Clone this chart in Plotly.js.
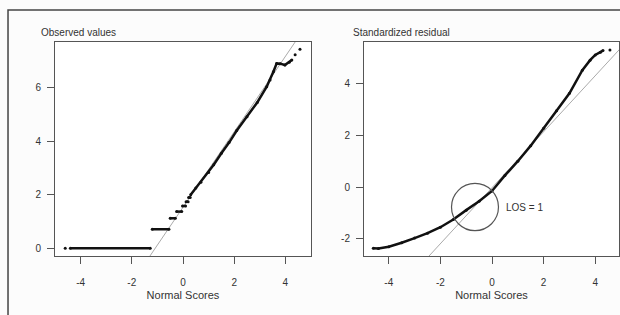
<!DOCTYPE html>
<html>
<head>
<meta charset="utf-8">
<script src="https://cdn.plot.ly/plotly-3.0.1.min.js"></script>
<style>
html,body{margin:0;padding:0;background:#fcfcfc;}
#chart{width:620px;height:315px;}
</style>
</head>
<body>
<div id="chart"></div>
<script>
// Left panel: observed values vs normal scores (null = gap between tied levels)
var obsX = [-4.6, null, -4.4, -1.28, null, -1.2, -0.55, null, -0.5, -0.3, null, -0.25, -0.05, null, -0.02, 0.1, null, 0.12, 0.2, null, 0.22, 0.28, null,
            0.3, 0.5, 0.7, 1.0, 1.2, 1.5, 1.8, 2.1, 2.5, 2.9, 3.27, 3.4, 3.53, 3.66, 3.8, 3.98, 4.15, 4.25, null, 4.38, null, 4.57];
var obsY = [0, null, 0, 0, null, 0.71, 0.71, null, 1.12, 1.12, null, 1.37, 1.37, null, 1.58, 1.58, null, 1.74, 1.74, null, 1.9, 1.9, null,
            2.0, 2.25, 2.47, 2.83, 3.12, 3.55, 3.95, 4.4, 4.92, 5.45, 6.04, 6.29, 6.6, 6.91, 6.9, 6.85, 6.95, 7.04, null, 7.23, null, 7.44];
var refLeftX = [-1.5, 4.6];
var refLeftY = [-0.585, 8.02];

// Right panel: standardized residual vs normal scores
var resX = [-4.6, -4.4, -4.0, -3.5, -3.0, -2.5, -2.0, -1.5, -1.0, -0.5, 0, 0.5, 1.0, 1.5, 2.0, 2.5, 3.0, 3.5, 3.8, 4.0, 4.2, 4.3, null, 4.57];
var resY = [-2.36, -2.37, -2.3, -2.15, -1.97, -1.78, -1.55, -1.25, -0.89, -0.55, -0.15, 0.45, 1.0, 1.6, 2.27, 2.95, 3.62, 4.51, 4.9, 5.1, 5.2, 5.27, null, 5.29];
var refRightX = [-2.7, 5.0];
var refRightY = [-2.94, 5.38];

var xTickVals = [-4, -2, 0, 2, 4];
var xTickText = ['-4', '-2', '0', '2', '4'];
var yLeftVals = [0, 2, 4, 6];
var yLeftText = ['0', '2', '4', '6'];
var yRightVals = [-2, 0, 2, 4];
var yRightText = ['-2', '0', '2', '4'];

var font = 'Liberation Sans, Arial, sans-serif';
var axisCommon = {
  showgrid: false, zeroline: false, showline: true, mirror: true,
  linecolor: '#555', linewidth: 1, ticks: 'outside', ticklen: 7, tickwidth: 1,
  tickcolor: '#555', tickfont: {family: font, size: 10, color: '#333'}, tickmode: 'array'
};
function ax(extra){ return Object.assign({}, axisCommon, extra); }

var traces = [
  {x: refLeftX, y: refLeftY, xaxis: 'x', yaxis: 'y', mode: 'lines', line: {color: '#aaa', width: 1}, hoverinfo: 'skip'},
  {x: obsX, y: obsY, xaxis: 'x', yaxis: 'y', mode: 'lines+markers', connectgaps: false,
   line: {color: '#111', width: 2.5}, marker: {color: '#111', size: 3}},
  {x: refRightX, y: refRightY, xaxis: 'x2', yaxis: 'y2', mode: 'lines', line: {color: '#aaa', width: 1}, hoverinfo: 'skip'},
  {x: resX, y: resY, xaxis: 'x2', yaxis: 'y2', mode: 'lines+markers', connectgaps: false,
   line: {color: '#111', width: 2.5}, marker: {color: '#111', size: 3}}
];

var layout = {
  width: 620, height: 315,
  margin: {l: 55, r: 1, t: 42, b: 59},
  paper_bgcolor: '#fcfcfc', plot_bgcolor: '#ffffff',
  showlegend: false,
  font: {family: font, size: 10, color: '#333'},
  xaxis: ax({domain: [0, 0.4539], range: [-5, 5], tickvals: xTickVals, ticktext: xTickText, anchor: 'y',
             ticklabelstandoff: 10,
             title: {text: 'Normal Scores', font: {family: font, size: 11, color: '#333'}, standoff: 4}}),
  yaxis: ax({domain: [0, 1], range: [-0.29, 7.71], tickvals: yLeftVals, ticktext: yLeftText, anchor: 'x', ticklabelstandoff: 4}),
  xaxis2: ax({domain: [0.5479, 1], range: [-4.96, 4.92], tickvals: xTickVals, ticktext: xTickText, anchor: 'y2',
              ticklabelstandoff: 10,
              title: {text: 'Normal Scores', font: {family: font, size: 11, color: '#333'}, standoff: 4}}),
  yaxis2: ax({domain: [0, 1], range: [-2.66, 5.6], tickvals: yRightVals, ticktext: yRightText, anchor: 'x2', ticklabelstandoff: 4}),
  shapes: [
    {type: 'rect', xref: 'paper', yref: 'paper', x0: -0.0833, x1: 1.02, y0: -0.3, y1: 1.1495,
     line: {color: '#444', width: 1.5}, fillcolor: 'rgba(0,0,0,0)', layer: 'below'},
    {type: 'circle', xref: 'x2', yref: 'y2', x0: -1.57, x1: 0.25, y0: -1.68, y1: 0.14,
     line: {color: '#555', width: 1.2}}
  ],
  annotations: [
    {xref: 'paper', yref: 'paper', x: -0.0284, y: 1.0467, xanchor: 'left', yanchor: 'middle', showarrow: false,
     text: 'Observed values', font: {family: font, size: 10, color: '#333'}},
    {xref: 'paper', yref: 'paper', x: 0.5248, y: 1.0467, xanchor: 'left', yanchor: 'middle', showarrow: false,
     text: 'Standardized residual', font: {family: font, size: 10, color: '#333'}},
    {xref: 'x2', yref: 'y2', x: 0.45, y: -0.77, xanchor: 'left', yanchor: 'middle', showarrow: false,
     text: 'LOS = 1', font: {family: font, size: 10, color: '#333'}}
  ]
};

Plotly.newPlot('chart', traces, layout, {staticPlot: true, displayModeBar: false});
</script>
</body>
</html>
